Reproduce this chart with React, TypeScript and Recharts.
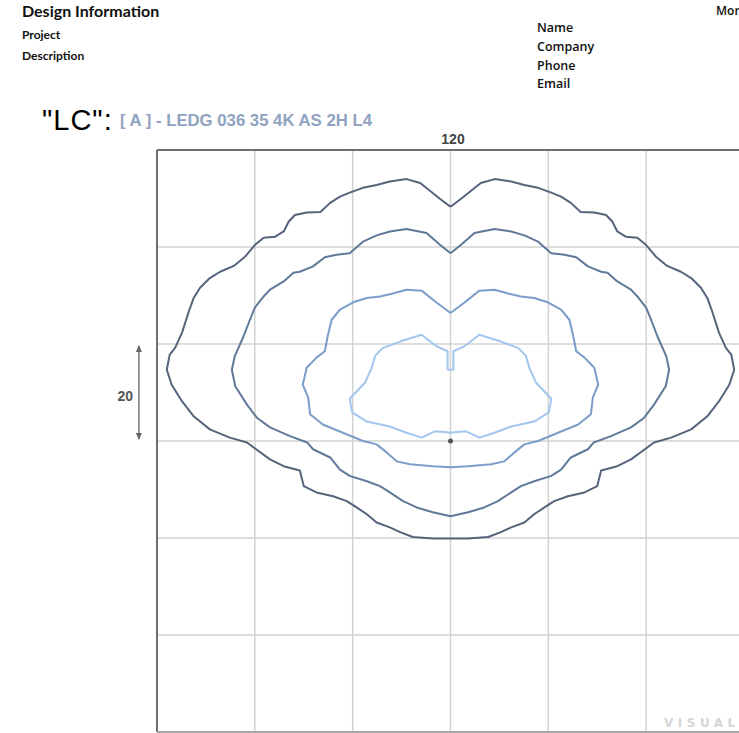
import React from 'react';
import { LineChart, Line, XAxis, YAxis, CartesianGrid, ReferenceLine, ReferenceDot } from 'recharts';

// grid every 20 units, plot box is 120 x 120 centred on the luminaire
const GRID_TICKS = [-60, -40, -20, 0, 20, 40, 60];

// left half of each isolux line, read from the top centre round to the bottom centre (x, y)
const outerHalf: [number, number][] = [
    [0, 48.3], [-2.1, 49.9], [-6.2, 53.2], [-9.0, 54.0], [-12.4, 53.5], [-15.1, 52.8], [-17.9, 52.2],
    [-20.6, 51.2], [-22.6, 50.4], [-24.6, 49.1], [-26.6, 47.2], [-29.4, 47.1], [-31.8, 46.6], [-33.1, 45.2],
    [-34.1, 43.2], [-35.9, 42.1], [-38.2, 41.9], [-40.0, 40.4], [-42.0, 38.0], [-44.3, 36.1], [-47.1, 34.9],
    [-49.2, 33.6], [-51.2, 31.6], [-52.5, 29.5], [-53.5, 26.7], [-54.9, 22.3], [-56.3, 19.2], [-57.4, 17.8],
    [-58.0, 14.7], [-57.0, 11.6], [-54.9, 8.2], [-52.5, 5.1], [-49.2, 2.4], [-45.1, 0.7], [-41.6, -0.3],
    [-39.6, -1.8], [-36.9, -3.8], [-34.1, -5.2], [-30.8, -6.1], [-30.0, -9.3], [-27.4, -10.6], [-24.0, -11.4],
    [-21.2, -12.4], [-19.2, -13.7], [-17.1, -15.1], [-15.1, -16.8], [-12.4, -17.8], [-10.3, -18.8],
    [-7.7, -19.8], [-3.6, -20.1], [0, -20.1],
];

const secondHalf: [number, number][] = [
    [0, 38.7], [-2.1, 40.4], [-4.9, 42.9], [-9.0, 43.7], [-12.4, 43.2], [-15.1, 42.4], [-17.9, 41.1],
    [-20.6, 38.7], [-23.3, 38.4], [-25.7, 37.9], [-28.1, 36.0], [-30.8, 34.9], [-32.1, 34.7], [-34.1, 32.9],
    [-36.9, 31.2], [-38.2, 29.8], [-40.0, 27.5], [-41.0, 25.0], [-42.3, 21.6], [-44.1, 17.5], [-44.7, 14.7],
    [-44.0, 11.3], [-41.6, 7.5], [-39.6, 4.8], [-36.9, 2.8], [-32.8, 1.0], [-29.3, -0.3], [-28.1, -1.7],
    [-24.6, -3.4], [-22.6, -5.9], [-20.6, -7.2], [-17.1, -8.3], [-14.4, -9.3], [-12.4, -10.6], [-9.7, -12.4],
    [-6.9, -13.7], [-3.6, -14.7], [0, -15.5],
];

const thirdHalf: [number, number][] = [
    [0, 26.4], [-2.8, 28.5], [-5.9, 31.0], [-9.0, 31.2], [-11.8, 30.4], [-14.4, 29.8], [-17.1, 29.5],
    [-19.9, 28.6], [-22.6, 27.1], [-24.3, 25.0], [-25.1, 21.6], [-25.7, 18.5], [-27.4, 17.2], [-29.4, 15.1],
    [-30.2, 11.6], [-29.1, 9.0], [-28.7, 5.5], [-26.1, 3.4], [-22.0, 1.7], [-17.9, 0], [-15.1, -0.7],
    [-13.0, -2.4], [-11.0, -4.2], [-8.3, -4.8], [-3.6, -5.2], [0, -5.4],
];

const innerHalf: [number, number][] = [
    [-0.6, 14.7], [-0.6, 18.5], [-2.8, 19.5], [-5.9, 21.9], [-10.3, 20.5], [-13.8, 19.2], [-15.4, 17.6],
    [-16.1, 15.1], [-17.5, 12.0], [-20.6, 8.7], [-20.1, 5.9], [-17.1, 4.0], [-12.4, 3.0], [-9.0, 1.7],
    [-5.9, 0.7], [-3.2, 2.0], [-0.8, 1.8], [0, 1.7],
];

const CONTOUR_COLORS = ['#55647a', '#617999', '#7b9dca', '#a2c6ee'];

// the distribution is symmetric about x = 0, so the right half is the mirrored left half
const closeContour = (half: [number, number][]) => {
    const left = half.map(([x, y]) => ({ x, y }));
    const right = [...half].reverse().map(([x, y]) => ({ x: -x, y }));
    return [...left, ...right, left[0]];
};

const contours = [outerHalf, secondHalf, thirdHalf, innerHalf].map(closeContour);

const headFont = 'Lato, "Open Sans", sans-serif';

export default function App() {
    return (
        <div style={{ position: 'fixed', left: 0, top: 0, width: 739, height: 733, overflow: 'hidden', background: '#fff' }}>
            <svg width={0} height={0} style={{ position: 'absolute' }}>
                <defs>
                    <marker id='arrowHead' markerWidth='7' markerHeight='6' refX='6' refY='3' orient='auto-start-reverse' markerUnits='userSpaceOnUse'>
                        <path d='M0,0 L7,3 L0,6 Z' fill='#666' />
                    </marker>
                </defs>
            </svg>
            <div style={{ position: 'absolute', left: 0, top: 0 }}>
                <LineChart width={749} height={733} margin={{ top: 150, left: 157, right: 5, bottom: 1 }}>
                    <CartesianGrid stroke='#d2d2d2' strokeWidth={1.5} horizontalValues={GRID_TICKS} verticalValues={GRID_TICKS} />
                    <XAxis type='number' dataKey='x' domain={[-60, 60]} ticks={GRID_TICKS} hide allowDataOverflow />
                    <YAxis type='number' dataKey='y' domain={[-60, 60]} ticks={GRID_TICKS} hide allowDataOverflow />
                    <ReferenceLine x={-60} stroke='#6f6f6f' strokeWidth={2} />
                    <ReferenceLine y={60} stroke='#6f6f6f' strokeWidth={2} />
                    <ReferenceLine y={-60} stroke='#a8a8a8' strokeWidth={2} />
                    {contours.map((pts, i) => (
                        <Line
                            key={`contour-${i}`}
                            data={pts}
                            dataKey='y'
                            type='linear'
                            stroke={CONTOUR_COLORS[i]}
                            strokeWidth={2}
                            strokeLinejoin='round'
                            dot={false}
                            activeDot={false}
                            isAnimationActive={false}
                        />
                    ))}
                    <ReferenceLine
                        segment={[{ x: -63.7, y: 0.4 }, { x: -63.7, y: 19.6 }]}
                        ifOverflow='visible'
                        stroke='#777'
                        strokeWidth={1.5}
                        markerStart='url(#arrowHead)'
                        markerEnd='url(#arrowHead)'
                    />
                    <ReferenceDot x={0} y={0} r={2.5} fill='#555' stroke='none' />
                </LineChart>
            </div>
            <svg width={739} height={733} style={{ position: 'absolute', left: 0, top: 0, pointerEvents: 'none' }}>
                <text x={22} y={17} fontFamily={headFont} fontWeight={700} fontSize={16} fill='#111'>Design Information</text>
                <text x={22} y={39} fontFamily={headFont} fontWeight={700} fontSize={12} fill='#111'>Project</text>
                <text x={22} y={60} fontFamily={headFont} fontWeight={700} fontSize={12} fill='#111'>Description</text>
                <text x={716} y={15} fontFamily='"Open Sans", sans-serif' fontWeight={600} fontSize={12} fill='#111'>Mor</text>
                <text x={537} y={32} fontFamily='"Open Sans", sans-serif' fontWeight={600} fontSize={12.5} fill='#111'>Name</text>
                <text x={537} y={51} fontFamily='"Open Sans", sans-serif' fontWeight={600} fontSize={12.5} fill='#111'>Company</text>
                <text x={537} y={69.5} fontFamily='"Open Sans", sans-serif' fontWeight={600} fontSize={12.5} fill='#111'>Phone</text>
                <text x={537} y={88} fontFamily='"Open Sans", sans-serif' fontWeight={600} fontSize={12.5} fill='#111'>Email</text>
                <text x={42} y={130} fontFamily='"Liberation Sans", Arial, sans-serif' fontSize={29} letterSpacing={1} fill='#000'>"LC":</text>
                <text x={120} y={126} textLength={252} lengthAdjust='spacingAndGlyphs' fontFamily='"Liberation Sans", Arial, sans-serif' fontWeight={700} fontSize={17} fill='#8fa3c0'>[ A ] - LEDG 036 35 4K AS 2H L4</text>
                <text x={453} y={144} textAnchor='middle' fontFamily='"Liberation Sans", Arial, sans-serif' fontWeight={700} fontSize={14} fill='#444'>120</text>
                <text x={133} y={401} textAnchor='end' fontFamily='"Liberation Sans", Arial, sans-serif' fontWeight={700} fontSize={14} fill='#555'>20</text>
                <text x={664} y={727} fontFamily='"DejaVu Sans", sans-serif' fontWeight={700} fontSize={12} letterSpacing={4.5} fill='#d6d6d6'>VISUAL</text>
            </svg>
        </div>
    );
}
